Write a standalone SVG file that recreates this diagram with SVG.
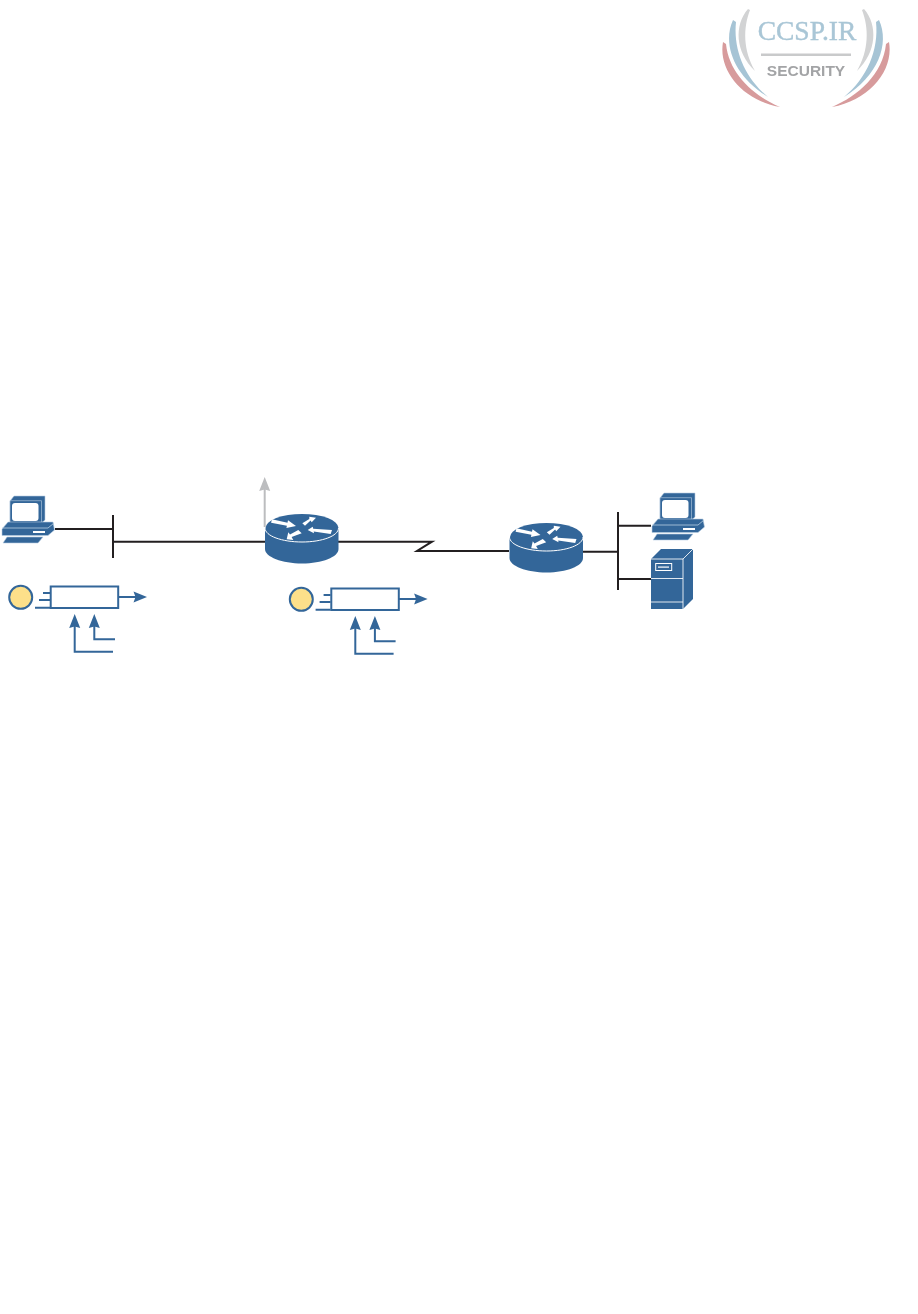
<svg xmlns="http://www.w3.org/2000/svg" width="918" height="1314" viewBox="0 0 918 1314">
<style>
.k{fill:none;stroke:#231f20;stroke-width:2}
.b{fill:none;stroke:#336699;stroke-width:2}
.a{fill:#336699}
.w{fill:#fff}
.wl{fill:none;stroke:#fff;stroke-width:1;opacity:.85}
.o{fill:#336699;stroke:#b9cfe2;stroke-width:.6;stroke-linejoin:round}
.y{fill:#fde08a;stroke:#336699;stroke-width:2}
</style>
<defs>
<filter id="soft" x="-5%" y="-5%" width="110%" height="110%"><feGaussianBlur stdDeviation="0.45"/></filter>
<g id="router">
<path class="a" d="M265 528V549C265 557 282 563.500 302 563.500S338.500 557 338.500 549V528Z"/>
<ellipse class="a" cx="302" cy="528" rx="36.500" ry="14"/>
<path d="M265 528C265 536 282 542 302 542S338.500 536 338.500 528" fill="none" stroke="#fff" stroke-width="1"/>
<path class="w" d="M271.900 519.200L287.500 522.700L288 520.300L296 526L286.400 528.100L286.900 525.700L271.100 522.800Z"/>
<path class="w" d="M302.300 523.300L309.300 519.100L309.300 516.700L316 517.700L311.700 522.300L310.600 520.600L305 525.700Z"/>
<path class="w" d="M298.300 530L290 534.500L288.300 532.300L286.700 539.300L293.300 540L291.600 537L301.700 533.300Z"/>
<path class="w" d="M307.700 530L312.700 526.700L313.200 528.700L332 530L330.700 534L313.700 531.400L314 533.300Z"/>
</g>
<g id="pc">
<path class="o" d="M14 496H45V520L41.500 523H10V501Z"/>
<path class="o" d="M10 500.700H41.500V523H10Z"/>
<rect x="12" y="503" width="26.500" height="18" rx="3" fill="#fff"/>
<path class="o" d="M8 522H53L54.500 530L48 535.500H2V529Z"/>
<path d="M2 528H48L54 523" fill="none" stroke="#b9cfe2" stroke-width=".8"/>
<rect x="33" y="531" width="12" height="2" fill="#fff"/>
<path class="o" d="M7 537H43L38 543H3Z"/>
</g>
<g id="gate">
<rect x="50.700" y="586.500" width="67.500" height="21.500" fill="#fff" stroke="#336699" stroke-width="2"/>
<circle class="y" cx="20.700" cy="597.300" r="11.500"/>
<path class="b" d="M43 593H50M39 600H50M35 607.700H50M118 597H136"/>
<path class="a" d="M147 597L133.500 591.500L135.500 597L133.500 602.500Z"/>
<path class="b" d="M74.700 626V651.700H113M94.300 626V639.300H115"/>
<path class="a" d="M74.700 614L69.200 628L74.700 626.500L80.200 628ZM94.300 614L88.800 628L94.300 626.500L99.800 628Z"/>
</g>
</defs>
<g id="logo" filter="url(#soft)">
<path fill="#d2d3d4" d="M748 9C734 25 735 52 755 71C743 50 743 28 750 10Z"/>
<path fill="#a6c4d5" d="M733 20C722 44 734 76 768 97C745 78 733 50 736 22Z"/>
<path fill="#d79b9c" d="M723 42C718 70 742 100 780 107C754 96 729 74 726 44Z"/>
<path fill="#d2d3d4" d="M864 9C878 25 877 52 857 71C869 50 869 28 862 10Z"/>
<path fill="#a6c4d5" d="M879 20C890 44 878 76 844 97C867 78 879 50 876 22Z"/>
<path fill="#d79b9c" d="M889 42C894 70 870 100 832 107C858 96 883 74 886 44Z"/>
<text x="807" y="40" text-anchor="middle" font-family="'Liberation Serif',serif" font-size="27.500" fill="#a9c6d6" stroke="#a9c6d6" stroke-width=".4">CCSP.IR</text>
<rect x="761" y="53.500" width="90" height="2.500" fill="#c9cacb"/>
<text x="806" y="76" text-anchor="middle" font-family="'Liberation Sans',sans-serif" font-size="15.500" font-weight="bold" fill="#a3a4a6">SECURITY</text>
</g>
<g id="connectors">
<path class="k" d="M55 529H113M113 515V558M113 541.700H265M338 541.700H432L417 551H509M583 551.700H618M618 512V590M618 525.700H651M618 579H651"/>
<path fill="none" stroke="#bcbdbf" stroke-width="2" d="M264.700 527V488"/>
<path fill="#bcbdbf" d="M264.700 477L259.200 491L264.700 489.500L270.200 491Z"/>
</g>
<g id="pc-left"><use href="#pc"/></g>
<g id="router-1"><use href="#router"/></g>
<g id="router-2"><use href="#router" x="244.500" y="9"/></g>
<g id="pc-right"><use href="#pc" x="650" y="-3"/></g>
<g id="server">
<path class="a" d="M651 559L661 549H693V599L683 609H651Z"/>
<path class="wl" d="M651 559H683L693 549M683 559V609M651 578.500H683M651 602H683"/>
<rect x="655.700" y="563.500" width="16" height="7" fill="none" stroke="#fff" stroke-width="1"/>
<rect x="658" y="566.500" width="11" height="1.200" fill="#fff"/>
</g>
<g id="gate-1"><use href="#gate"/></g>
<g id="gate-2"><use href="#gate" x="280.600" y="2"/></g>
</svg>
